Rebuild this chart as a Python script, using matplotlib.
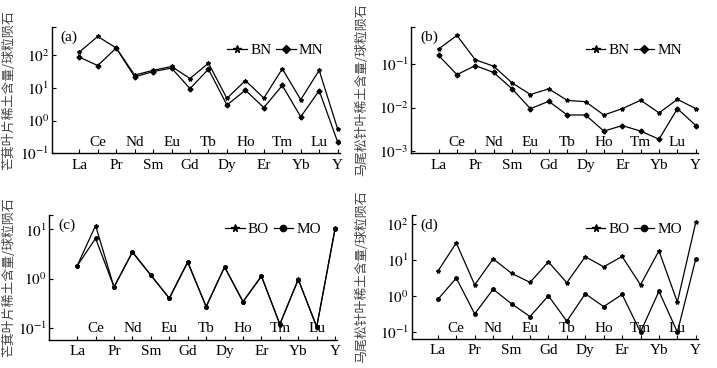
import matplotlib
matplotlib.use("Agg")
import matplotlib.pyplot as plt
import matplotlib.transforms as mtransforms
import numpy as np

plt.rcParams['font.family'] = ['Liberation Serif', 'Noto Sans CJK SC']
plt.rcParams['mathtext.fontset'] = 'stix'

elements = ["La", "Ce", "Pr", "Nd", "Sm", "Eu", "Gd", "Tb", "Dy", "Ho",
            "Er", "Tm", "Yb", "Lu", "Y"]

# (a) 芒萁叶片 / 球粒陨石
a_bn = [127, 385, 170, 25, 35, 46, 19.6, 58, 4.8, 17, 4.9, 39, 4.4, 35, 0.55]
a_mn = [89, 49, 170, 22, 32, 41, 9.6, 38, 3.0, 8.6, 2.5, 12, 1.3, 8.3, 0.22]
# (b) 马尾松针叶 / 球粒陨石
b_bn = [0.22, 0.45, 0.125, 0.089, 0.037, 0.020, 0.027, 0.0147, 0.0137,
        0.0068, 0.0095, 0.0148, 0.0076, 0.0155, 0.0095]
b_mn = [0.158, 0.057, 0.092, 0.064, 0.027, 0.0095, 0.014, 0.0068, 0.0068,
        0.0029, 0.0039, 0.0029, 0.0019, 0.0095, 0.0039]
# (c)
c_bo = [1.82, 12, 0.67, 3.5, 1.18, 0.40, 2.2, 0.27, 1.74, 0.34, 1.13, 0.117,
        0.97, 0.104, 10.6]
c_mo = [1.82, 6.6, 0.68, 3.45, 1.17, 0.40, 2.15, 0.27, 1.72, 0.34, 1.12,
        0.12, 0.96, 0.105, 10.4]
# (d)
d_bo = [4.9, 30, 2.05, 10.8, 4.3, 2.4, 8.9, 2.35, 12.4, 6.5, 12.6, 2.05,
        18.1, 0.68, 112]
d_mo = [0.81, 3.16, 0.32, 1.55, 0.61, 0.27, 1.02, 0.20, 1.16, 0.51, 1.11,
        0.10, 1.36, 0.10, 10.8]

label_a = "芒萁叶片稀土含量/球粒陨石"
label_b = "马尾松针叶稀土含量/球粒陨石"

fig = plt.figure(figsize=(7.17, 3.68), dpi=100)

panels = [
    # rect, tag, s1, s2, names, markers, ylim, y exponents, ylabel, xleft, label x, legend y
    ([0.0725, 0.584, 0.4015, 0.343], "(a)", a_bn, a_mn, ("BN", "MN"), ("*", "D"),
     (10 ** -1.0, 10 ** 2.88), [-1, 0, 1, 2], label_a, -1.48, -0.128, 0.93),
    ([0.5737, 0.584, 0.3998, 0.343], "(b)", b_bn, b_mn, ("BN", "MN"), ("*", "D"),
     (10 ** -3.04, 10 ** -0.15), [-3, -2, -1], label_b, -1.48, -0.151, 0.93),
    ([0.0688, 0.077, 0.4017, 0.3396], "(c)", c_bo, c_mo, ("BO", "MO"), ("*", "o"),
     (10 ** -1.24, 10 ** 1.30), [-1, 0, 1], label_a, -1.51, -0.119, 1.0),
    ([0.5742, 0.079, 0.3993, 0.3376], "(d)", d_bo, d_mo, ("BO", "MO"), ("*", "o"),
     (10 ** -1.19, 10 ** 2.26), [-1, 0, 1, 2], label_b, -1.42, -0.152, 1.0),
]

x = np.arange(len(elements))

for rect, tag, s1, s2, names, mk, ylim, yexp, ylabel, xleft, lab_x, leg_y in panels:
    ax = fig.add_axes(rect)
    ax.plot(x, s1, color="black", lw=0.9, marker=mk[0], ms=3, label=names[0])
    ax.plot(x, s2, color="black", lw=0.9, marker=mk[1], ms=2.5, label=names[1])
    ax.set_yscale("log")
    ax.set_ylim(*ylim)
    ax.set_xlim(xleft, 14.12)
    ax.spines["top"].set_visible(False)
    ax.spines["right"].set_visible(False)
    ax.spines["left"].set_linewidth(1.0)
    ax.spines["bottom"].set_linewidth(1.0)

    yt = [10.0 ** e for e in yexp] + [ylim[1]]
    ax.set_yticks(yt)
    ax.set_yticklabels([r"$10^{%d}$" % e for e in yexp] + [""])
    ax.minorticks_off()
    ax.tick_params(axis="y", direction="in", length=3, labelsize=11, pad=2)

    ax.set_xticks(x)
    ax.set_xticklabels([el if i % 2 == 0 else "" for i, el in enumerate(elements)])
    ax.tick_params(axis="x", direction="in", length=3, labelsize=11, pad=4)
    trans = mtransforms.blended_transform_factory(ax.transData, ax.transAxes)
    for i, el in enumerate(elements):
        if i % 2 == 1:
            ax.text(i, 0.035, el, transform=trans, ha="center", va="bottom",
                    fontsize=11)

    ax.text(0.03, 0.97, tag, transform=ax.transAxes, ha="left", va="top",
            fontsize=11)
    ax.set_ylabel(ylabel, fontsize=9.3, family=["Noto Sans CJK SC"],
                  color="#444444")
    ax.yaxis.set_label_coords(lab_x, 0.5)
    ax.legend(loc="upper right", bbox_to_anchor=(0.97, leg_y), ncol=2,
              frameon=False, fontsize=11, handlelength=1.3,
              handletextpad=0.2, columnspacing=0.3, borderaxespad=0.1,
              markerscale=1.8)

fig.savefig("out.png", dpi=100)
